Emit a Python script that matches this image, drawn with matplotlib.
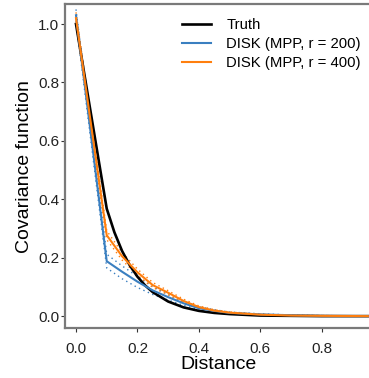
import matplotlib
matplotlib.use("Agg")
import matplotlib.pyplot as plt

plt.rcParams['font.family'] = ['Liberation Sans', 'DejaVu Sans']

# Truth
d_truth = [0.0, 0.10, 0.125, 0.15, 0.175, 0.20, 0.225, 0.25, 0.30, 0.35, 0.40,
           0.45, 0.50, 0.60, 0.70, 0.80, 0.95]
c_truth = [1.0, 0.368, 0.287, 0.223, 0.174, 0.135, 0.105, 0.082, 0.050, 0.030,
           0.018, 0.011, 0.007, 0.002, 0.001, 0.000, 0.000]

# DISK estimates
d_disk = [0.0, 0.10, 0.15, 0.20, 0.25, 0.30, 0.35, 0.40, 0.45, 0.50, 0.60, 0.70, 0.80, 0.95]
c_r200 = [1.03, 0.188, 0.152, 0.118, 0.088, 0.065, 0.044, 0.027, 0.018, 0.011, 0.006, 0.003, 0.001, 0.0]
c_r200_lo = [1.01, 0.165, 0.128, 0.098, 0.074, 0.055, 0.037, 0.022, 0.014, 0.008, 0.004, 0.002, 0.000, 0.0]
c_r200_hi = [1.05, 0.212, 0.172, 0.136, 0.100, 0.074, 0.050, 0.032, 0.022, 0.014, 0.008, 0.004, 0.002, 0.0]
c_r400 = [1.02, 0.277, 0.205, 0.150, 0.106, 0.080, 0.052, 0.031, 0.019, 0.012, 0.005, 0.002, 0.001, 0.0]
c_r400_lo = [1.00, 0.262, 0.192, 0.140, 0.098, 0.073, 0.046, 0.027, 0.016, 0.010, 0.004, 0.001, 0.000, 0.0]
c_r400_hi = [1.04, 0.292, 0.218, 0.161, 0.115, 0.087, 0.058, 0.035, 0.022, 0.014, 0.006, 0.003, 0.002, 0.0]

labels = ["Truth", "DISK (MPP, r = 200)", "DISK (MPP, r = 400)"]
xticks = [0.0, 0.2, 0.4, 0.6, 0.8]
yticks = [0.0, 0.2, 0.4, 0.6, 0.8, 1.0]

blue = '#3a7fc0'
orange = '#ff7f0e'

fig = plt.figure(figsize=(3.69, 3.78), dpi=100)
ax = fig.add_axes([0.176, 0.132, 0.83, 0.857])

dots = (0, (1, 2.5))
ax.plot(d_disk, c_r200_lo, color=blue, lw=1.0, ls=dots)
ax.plot(d_disk, c_r200_hi, color=blue, lw=1.0, ls=dots)
ax.plot(d_disk, c_r400_lo, color=orange, lw=1.0, ls=dots)
ax.plot(d_disk, c_r400_hi, color=orange, lw=1.0, ls=dots)

ax.plot(d_truth, c_truth, color='black', lw=1.9, label=labels[0], zorder=3)
ax.plot(d_disk, c_r200, color=blue, lw=1.5, label=labels[1], zorder=4)
ax.plot(d_disk, c_r400, color=orange, lw=1.5, label=labels[2], zorder=4)

ax.set_xlim(-0.036, 0.961)
ax.set_ylim(-0.041, 1.068)
ax.set_xticks(xticks)
ax.set_yticks(yticks)
ax.set_xticklabels([f"{v:.1f}" for v in xticks])
ax.set_yticklabels([f"{v:.1f}" for v in yticks])

for s in ax.spines.values():
    s.set_color('#7a7a7a')
    s.set_linewidth(1.6)
ax.spines['right'].set_visible(False)

ax.tick_params(axis='both', colors='#333333', labelcolor='#222222', labelsize=11,
               length=3, width=0.8)
ax.tick_params(axis='x', pad=7)
ax.tick_params(axis='y', pad=1)

ax.set_xlabel("Distance", fontsize=14, labelpad=0)
ax.set_ylabel("Covariance function", fontsize=14, labelpad=4)

leg = ax.legend(loc='upper right', frameon=False, fontsize=10.7,
                handlelength=2.0, handletextpad=1.0, labelspacing=0.35,
                borderaxespad=0.3, bbox_to_anchor=(1.0, 0.99))

fig.savefig("out.png", dpi=100)
